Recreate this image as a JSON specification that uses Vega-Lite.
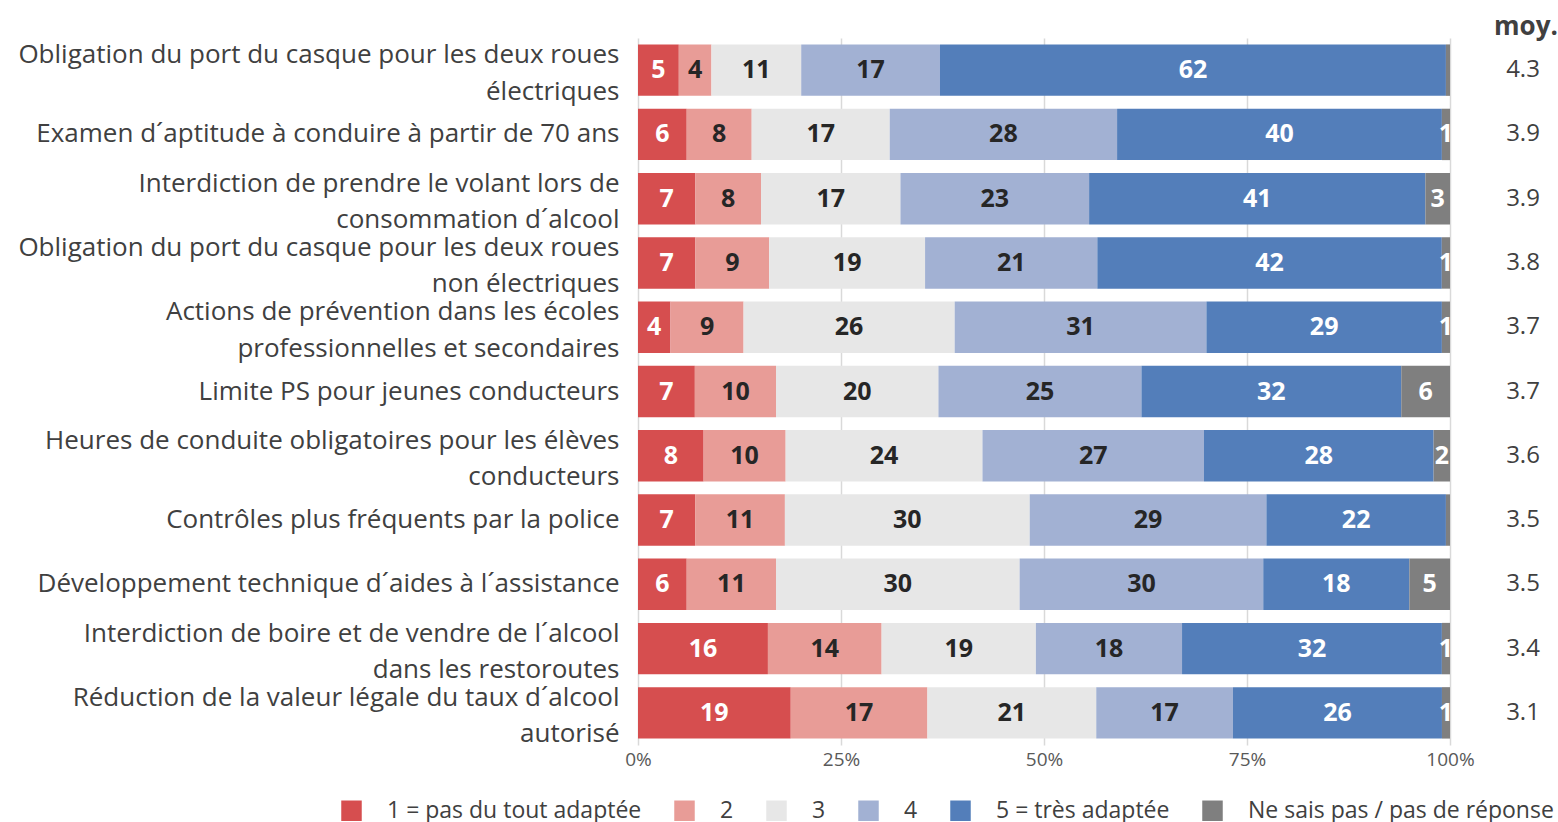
{
  "$schema": "https://vega.github.io/schema/vega-lite/v6.json",
  "padding": {"left": 5, "top": 13, "right": 3, "bottom": 0},
  "config": {"view": {"stroke": null}, "font": "Open Sans", "concat": {"spacing": 16}},
  "datasets": {
    "main": [
      {"q": "Obligation du port du casque pour les deux roues|électriques", "k": 1, "rep": "1 = pas du tout adaptée", "v": 5},
      {"q": "Obligation du port du casque pour les deux roues|électriques", "k": 2, "rep": "2", "v": 4},
      {"q": "Obligation du port du casque pour les deux roues|électriques", "k": 3, "rep": "3", "v": 11},
      {"q": "Obligation du port du casque pour les deux roues|électriques", "k": 4, "rep": "4", "v": 17},
      {"q": "Obligation du port du casque pour les deux roues|électriques", "k": 5, "rep": "5 = très adaptée", "v": 62},
      {"q": "Obligation du port du casque pour les deux roues|électriques", "k": 6, "rep": "Ne sais pas / pas de réponse", "v": 0.5},
      {"q": "Examen d´aptitude à conduire à partir de 70 ans", "k": 1, "rep": "1 = pas du tout adaptée", "v": 6},
      {"q": "Examen d´aptitude à conduire à partir de 70 ans", "k": 2, "rep": "2", "v": 8},
      {"q": "Examen d´aptitude à conduire à partir de 70 ans", "k": 3, "rep": "3", "v": 17},
      {"q": "Examen d´aptitude à conduire à partir de 70 ans", "k": 4, "rep": "4", "v": 28},
      {"q": "Examen d´aptitude à conduire à partir de 70 ans", "k": 5, "rep": "5 = très adaptée", "v": 40},
      {"q": "Examen d´aptitude à conduire à partir de 70 ans", "k": 6, "rep": "Ne sais pas / pas de réponse", "v": 1},
      {"q": "Interdiction de prendre le volant lors de|consommation d´alcool", "k": 1, "rep": "1 = pas du tout adaptée", "v": 7},
      {"q": "Interdiction de prendre le volant lors de|consommation d´alcool", "k": 2, "rep": "2", "v": 8},
      {"q": "Interdiction de prendre le volant lors de|consommation d´alcool", "k": 3, "rep": "3", "v": 17},
      {"q": "Interdiction de prendre le volant lors de|consommation d´alcool", "k": 4, "rep": "4", "v": 23},
      {"q": "Interdiction de prendre le volant lors de|consommation d´alcool", "k": 5, "rep": "5 = très adaptée", "v": 41},
      {"q": "Interdiction de prendre le volant lors de|consommation d´alcool", "k": 6, "rep": "Ne sais pas / pas de réponse", "v": 3},
      {"q": "Obligation du port du casque pour les deux roues|non électriques", "k": 1, "rep": "1 = pas du tout adaptée", "v": 7},
      {"q": "Obligation du port du casque pour les deux roues|non électriques", "k": 2, "rep": "2", "v": 9},
      {"q": "Obligation du port du casque pour les deux roues|non électriques", "k": 3, "rep": "3", "v": 19},
      {"q": "Obligation du port du casque pour les deux roues|non électriques", "k": 4, "rep": "4", "v": 21},
      {"q": "Obligation du port du casque pour les deux roues|non électriques", "k": 5, "rep": "5 = très adaptée", "v": 42},
      {"q": "Obligation du port du casque pour les deux roues|non électriques", "k": 6, "rep": "Ne sais pas / pas de réponse", "v": 1},
      {"q": "Actions de prévention dans les écoles|professionnelles et secondaires", "k": 1, "rep": "1 = pas du tout adaptée", "v": 4},
      {"q": "Actions de prévention dans les écoles|professionnelles et secondaires", "k": 2, "rep": "2", "v": 9},
      {"q": "Actions de prévention dans les écoles|professionnelles et secondaires", "k": 3, "rep": "3", "v": 26},
      {"q": "Actions de prévention dans les écoles|professionnelles et secondaires", "k": 4, "rep": "4", "v": 31},
      {"q": "Actions de prévention dans les écoles|professionnelles et secondaires", "k": 5, "rep": "5 = très adaptée", "v": 29},
      {"q": "Actions de prévention dans les écoles|professionnelles et secondaires", "k": 6, "rep": "Ne sais pas / pas de réponse", "v": 1},
      {"q": "Limite PS pour jeunes conducteurs", "k": 1, "rep": "1 = pas du tout adaptée", "v": 7},
      {"q": "Limite PS pour jeunes conducteurs", "k": 2, "rep": "2", "v": 10},
      {"q": "Limite PS pour jeunes conducteurs", "k": 3, "rep": "3", "v": 20},
      {"q": "Limite PS pour jeunes conducteurs", "k": 4, "rep": "4", "v": 25},
      {"q": "Limite PS pour jeunes conducteurs", "k": 5, "rep": "5 = très adaptée", "v": 32},
      {"q": "Limite PS pour jeunes conducteurs", "k": 6, "rep": "Ne sais pas / pas de réponse", "v": 6},
      {"q": "Heures de conduite obligatoires pour les élèves|conducteurs", "k": 1, "rep": "1 = pas du tout adaptée", "v": 8},
      {"q": "Heures de conduite obligatoires pour les élèves|conducteurs", "k": 2, "rep": "2", "v": 10},
      {"q": "Heures de conduite obligatoires pour les élèves|conducteurs", "k": 3, "rep": "3", "v": 24},
      {"q": "Heures de conduite obligatoires pour les élèves|conducteurs", "k": 4, "rep": "4", "v": 27},
      {"q": "Heures de conduite obligatoires pour les élèves|conducteurs", "k": 5, "rep": "5 = très adaptée", "v": 28},
      {"q": "Heures de conduite obligatoires pour les élèves|conducteurs", "k": 6, "rep": "Ne sais pas / pas de réponse", "v": 2},
      {"q": "Contrôles plus fréquents par la police", "k": 1, "rep": "1 = pas du tout adaptée", "v": 7},
      {"q": "Contrôles plus fréquents par la police", "k": 2, "rep": "2", "v": 11},
      {"q": "Contrôles plus fréquents par la police", "k": 3, "rep": "3", "v": 30},
      {"q": "Contrôles plus fréquents par la police", "k": 4, "rep": "4", "v": 29},
      {"q": "Contrôles plus fréquents par la police", "k": 5, "rep": "5 = très adaptée", "v": 22},
      {"q": "Contrôles plus fréquents par la police", "k": 6, "rep": "Ne sais pas / pas de réponse", "v": 0.5},
      {"q": "Développement technique d´aides à l´assistance", "k": 1, "rep": "1 = pas du tout adaptée", "v": 6},
      {"q": "Développement technique d´aides à l´assistance", "k": 2, "rep": "2", "v": 11},
      {"q": "Développement technique d´aides à l´assistance", "k": 3, "rep": "3", "v": 30},
      {"q": "Développement technique d´aides à l´assistance", "k": 4, "rep": "4", "v": 30},
      {"q": "Développement technique d´aides à l´assistance", "k": 5, "rep": "5 = très adaptée", "v": 18},
      {"q": "Développement technique d´aides à l´assistance", "k": 6, "rep": "Ne sais pas / pas de réponse", "v": 5},
      {"q": "Interdiction de boire et de vendre de l´alcool|dans les restoroutes", "k": 1, "rep": "1 = pas du tout adaptée", "v": 16},
      {"q": "Interdiction de boire et de vendre de l´alcool|dans les restoroutes", "k": 2, "rep": "2", "v": 14},
      {"q": "Interdiction de boire et de vendre de l´alcool|dans les restoroutes", "k": 3, "rep": "3", "v": 19},
      {"q": "Interdiction de boire et de vendre de l´alcool|dans les restoroutes", "k": 4, "rep": "4", "v": 18},
      {"q": "Interdiction de boire et de vendre de l´alcool|dans les restoroutes", "k": 5, "rep": "5 = très adaptée", "v": 32},
      {"q": "Interdiction de boire et de vendre de l´alcool|dans les restoroutes", "k": 6, "rep": "Ne sais pas / pas de réponse", "v": 1},
      {"q": "Réduction de la valeur légale du taux d´alcool|autorisé", "k": 1, "rep": "1 = pas du tout adaptée", "v": 19},
      {"q": "Réduction de la valeur légale du taux d´alcool|autorisé", "k": 2, "rep": "2", "v": 17},
      {"q": "Réduction de la valeur légale du taux d´alcool|autorisé", "k": 3, "rep": "3", "v": 21},
      {"q": "Réduction de la valeur légale du taux d´alcool|autorisé", "k": 4, "rep": "4", "v": 17},
      {"q": "Réduction de la valeur légale du taux d´alcool|autorisé", "k": 5, "rep": "5 = très adaptée", "v": 26},
      {"q": "Réduction de la valeur légale du taux d´alcool|autorisé", "k": 6, "rep": "Ne sais pas / pas de réponse", "v": 1}
    ],
    "moy": [
      {"q": "Obligation du port du casque pour les deux roues|électriques", "m": 4.3},
      {"q": "Examen d´aptitude à conduire à partir de 70 ans", "m": 3.9},
      {"q": "Interdiction de prendre le volant lors de|consommation d´alcool", "m": 3.9},
      {"q": "Obligation du port du casque pour les deux roues|non électriques", "m": 3.8},
      {"q": "Actions de prévention dans les écoles|professionnelles et secondaires", "m": 3.7},
      {"q": "Limite PS pour jeunes conducteurs", "m": 3.7},
      {"q": "Heures de conduite obligatoires pour les élèves|conducteurs", "m": 3.6},
      {"q": "Contrôles plus fréquents par la police", "m": 3.5},
      {"q": "Développement technique d´aides à l´assistance", "m": 3.5},
      {"q": "Interdiction de boire et de vendre de l´alcool|dans les restoroutes", "m": 3.4},
      {"q": "Réduction de la valeur légale du taux d´alcool|autorisé", "m": 3.1}
    ]
  },
  "hconcat": [
    {
      "width": 812,
      "height": 707,
      "data": {"name": "main"},
      "transform": [
        {"stack": "v", "groupby": ["q"], "sort": [{"field": "k", "order": "ascending"}], "offset": "normalize", "as": ["x0", "x1"]},
        {"calculate": "(datum.x0 + datum.x1) / 2", "as": "xm"}
      ],
      "encoding": {
        "y": {
          "field": "q", "type": "nominal", "sort": null,
          "scale": {"paddingInner": 0.2, "paddingOuter": 0.1},
          "axis": {
            "title": null, "domain": false, "ticks": false, "tickSize": 0,
            "labelPadding": 19, "labelFontSize": 26, "labelLineHeight": 36.5,
            "labelColor": "#404040", "labelLimit": 0,
            "labelOffset": {"condition": {"test": "indexof(datum.value, '|') >= 0", "value": -15}, "value": 0},
            "labelExpr": "split(datum.label, '|')",
            "minExtent": 633, "maxExtent": 633
          }
        }
      },
      "layer": [
        {
          "mark": {"type": "bar"},
          "encoding": {
            "x": {
              "field": "x0", "type": "quantitative",
              "scale": {"domain": [0, 1], "nice": false},
              "axis": {
                "values": [0, 0.25, 0.5, 0.75, 1], "format": ".0%", "title": null,
                "domain": false, "ticks": false, "tickSize": 0, "labelPadding": 5,
                "labelFontSize": 19, "labelColor": "#595959", "labelFlush": false,
                "grid": true, "gridColor": "#d9d9d9", "gridWidth": 1.5
              }
            },
            "x2": {"field": "x1"},
            "color": {
              "field": "rep", "type": "nominal",
              "scale": {
                "domain": ["1 = pas du tout adaptée", "2", "3", "4", "5 = très adaptée", "Ne sais pas / pas de réponse"],
                "range": ["#D64E4F", "#E89C97", "#E7E7E7", "#A2B1D3", "#537EBA", "#7F7F7F"]
              },
              "legend": {
                "orient": "none", "legendX": -298, "legendY": 761, "direction": "horizontal",
                "title": null, "symbolType": "square", "symbolSize": 420, "symbolStrokeWidth": 0,
                "labelFontSize": 23, "labelColor": "#404040", "labelOffset": 24, "columnPadding": 31,
                "labelLimit": 0
              }
            }
          }
        },
        {
          "transform": [{"filter": "datum.v >= 1"}],
          "mark": {"type": "text", "fontSize": 25, "fontWeight": "bold"},
          "encoding": {
            "x": {"field": "xm", "type": "quantitative"},
            "text": {"field": "v", "type": "quantitative"},
            "color": {"condition": {"test": "datum.k >= 2 && datum.k <= 4", "value": "#262626"}, "value": "#ffffff"}
          }
        }
      ]
    },
    {
      "width": 64,
      "height": 707,
      "data": {"name": "moy"},
      "title": {"text": "moy.", "fontSize": 26, "fontWeight": "bold", "color": "#404040", "offset": -1.5, "dx": 3, "anchor": "middle"},
      "mark": {"type": "text", "fontSize": 24, "color": "#404040"},
      "encoding": {
        "y": {"field": "q", "type": "nominal", "sort": null, "axis": null},
        "text": {"field": "m", "type": "quantitative", "format": ".1f"}
      }
    }
  ]
}
